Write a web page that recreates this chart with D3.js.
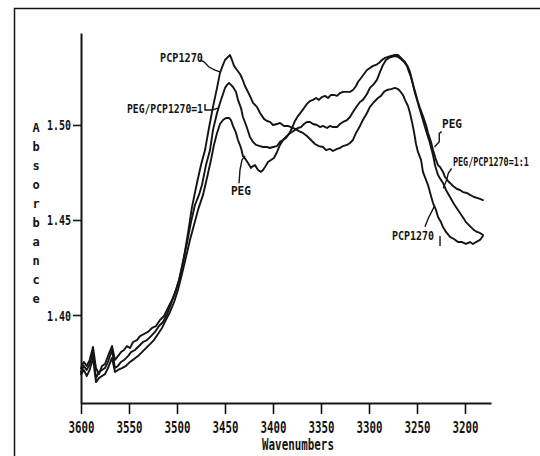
<!DOCTYPE html>
<html><head><meta charset="utf-8">
<script src="https://cdn.jsdelivr.net/npm/d3@7"></script>
<style>body{margin:0;background:#fff}svg{display:block}</style>
</head><body>
<svg id="c" width="540" height="456"></svg>
<script>
// ---------- data ----------
const xTicks = [3600,3550,3500,3450,3400,3350,3300,3250,3200];
const yTicks = [1.40,1.45,1.50];
const xTitle = "Wavenumbers";
const yTitle = "Absorbance";

// [wavenumber, absorbance]
const pcp1270 = [[3600,1.3721],[3597,1.3753],[3594,1.3732],[3591,1.3763],[3587.5,1.3832],[3584.4,1.3721],[3581.3,1.3689],[3578.1,1.3732],[3575,1.3742],[3571.9,1.3784],[3567.7,1.3837],[3564.6,1.3763],[3561.5,1.3784],[3558.3,1.3805],[3555.2,1.3816],[3552.1,1.3837],[3549,1.3826],[3545.8,1.3858],[3541.7,1.3868],[3538.5,1.3889],[3534.4,1.39],[3530.2,1.3911],[3526,1.3932],[3521.9,1.3942],[3517.7,1.3974],[3513.5,1.3995],[3509.4,1.4037],[3505.2,1.4079],[3501,1.4132],[3496.9,1.42],[3492.7,1.4305],[3488.5,1.4432],[3484.4,1.4568],[3479.2,1.4695],[3475,1.4789],[3470.8,1.4868],[3466.7,1.4984],[3462.5,1.5095],[3458.3,1.5195],[3455.2,1.5274],[3452.1,1.5316],[3450,1.5342],[3446.9,1.5358],[3444.8,1.5368],[3442.7,1.5342],[3440.6,1.5311],[3437.5,1.5289],[3434.4,1.5268],[3432.3,1.5247],[3429.2,1.5205],[3427.1,1.5184],[3424,1.5153],[3420.8,1.5116],[3416.7,1.5095],[3413.5,1.5063],[3409.4,1.5032],[3406.3,1.5021],[3403.1,1.5016],[3400,1.5],[3395.8,1.5005],[3392.7,1.5011],[3388.5,1.4995],[3384.4,1.4995],[3381.3,1.4989],[3377.1,1.4979],[3372.9,1.4968],[3368.8,1.4958],[3364.6,1.4942],[3360.4,1.4921],[3356.3,1.49],[3352.1,1.4889],[3347.9,1.4884],[3344.8,1.4868],[3340.6,1.4874],[3337.5,1.4863],[3333.3,1.4874],[3330.2,1.4879],[3327.1,1.4889],[3322.9,1.4895],[3319.8,1.4905],[3316.7,1.4921],[3313.5,1.4958],[3309.4,1.4995],[3306.3,1.5026],[3302.1,1.5063],[3299,1.5095],[3294.8,1.5121],[3290.6,1.5142],[3287.5,1.5153],[3284.4,1.5174],[3281.3,1.5184],[3277.1,1.5189],[3272.9,1.5195],[3269.8,1.5189],[3267.7,1.5179],[3264.6,1.5158],[3262.5,1.5132],[3259.4,1.51],[3257.3,1.5063],[3255.2,1.5016],[3253.1,1.4963],[3251,1.49],[3249,1.4858],[3245.8,1.4816],[3243.8,1.4753],[3240.6,1.4711],[3238.5,1.4684],[3235.4,1.4626],[3233.3,1.4589],[3230.2,1.4553],[3228.1,1.4516],[3225,1.4489],[3222.9,1.4463],[3219.8,1.4437],[3215.6,1.4411],[3211.5,1.44],[3207.3,1.4384],[3203.1,1.4384],[3199,1.4374],[3194.8,1.4384],[3191.7,1.4374],[3188.5,1.4384],[3184.4,1.4395],[3181.3,1.4416]];

const blend11 = [[3600,1.37],[3597,1.3732],[3594,1.3711],[3591,1.3742],[3587.5,1.3805],[3584.4,1.3668],[3581.3,1.37],[3578.1,1.3711],[3575,1.3721],[3571.9,1.3753],[3567.7,1.3816],[3564.6,1.3721],[3561.5,1.3732],[3558.3,1.3753],[3555.2,1.3763],[3551,1.3784],[3547.9,1.3805],[3543.8,1.3816],[3539.6,1.3837],[3535.4,1.3858],[3531.3,1.3868],[3527.1,1.3889],[3522.9,1.3911],[3518.8,1.3942],[3514.6,1.3963],[3510.4,1.4005],[3506.3,1.4058],[3502.1,1.4116],[3497.9,1.4184],[3493.8,1.4279],[3489.6,1.4379],[3485.4,1.4489],[3481.3,1.4579],[3477.1,1.4632],[3474,1.4684],[3469.8,1.4789],[3465.6,1.4868],[3462.5,1.4974],[3458.3,1.5063],[3455.2,1.5116],[3453.1,1.5147],[3450,1.5195],[3447.9,1.5211],[3445.8,1.5221],[3443.8,1.5211],[3441.7,1.52],[3438.5,1.5174],[3436.5,1.5132],[3433.3,1.5089],[3431.3,1.5042],[3428.1,1.5],[3426,1.4968],[3424,1.4937],[3420.8,1.4911],[3417.7,1.4895],[3413.5,1.4889],[3410.4,1.4884],[3406.3,1.4884],[3403.1,1.4879],[3400,1.4884],[3395.8,1.4889],[3392.7,1.4911],[3389.6,1.4921],[3386.5,1.4937],[3383.3,1.4953],[3380.2,1.4963],[3377.1,1.4974],[3374,1.4984],[3370.8,1.4989],[3367.7,1.5005],[3364.6,1.5016],[3361.5,1.5016],[3358.3,1.5005],[3354.2,1.5],[3351,1.4989],[3347.9,1.4995],[3343.8,1.4984],[3340.6,1.4995],[3337.5,1.4989],[3333.3,1.4989],[3330.2,1.5005],[3327.1,1.5016],[3322.9,1.5026],[3319.8,1.5042],[3316.7,1.5068],[3312.5,1.51],[3309.4,1.5121],[3306.3,1.5132],[3302.1,1.5163],[3299,1.5195],[3294.8,1.5216],[3291.7,1.5237],[3288.5,1.5279],[3285.4,1.5316],[3282.3,1.5342],[3279.2,1.5353],[3276,1.5358],[3272.9,1.5363],[3269.8,1.5358],[3266.7,1.5347],[3263.5,1.5332],[3260.4,1.5311],[3258.3,1.5279],[3256.3,1.5253],[3254.2,1.5211],[3252.1,1.5168],[3249,1.5116],[3246.9,1.5079],[3243.8,1.5026],[3241.7,1.4989],[3238.5,1.4937],[3236.5,1.4905],[3233.3,1.4842],[3231.3,1.4789],[3228.1,1.4737],[3225,1.4711],[3222.9,1.4695],[3219.8,1.4658],[3215.6,1.4621],[3211.5,1.4584],[3207.3,1.4553],[3203.1,1.4521],[3199,1.4489],[3194.8,1.4468],[3190.6,1.4447],[3187.5,1.4437],[3184.4,1.4432],[3181.3,1.4421]];

const peg = [[3600,1.3689],[3597,1.3711],[3594,1.3679],[3591,1.3711],[3587.5,1.3774],[3584.4,1.3647],[3581.3,1.3668],[3578.1,1.3679],[3575,1.3689],[3571.9,1.3721],[3567.7,1.3774],[3564.6,1.37],[3561.5,1.3711],[3557.3,1.3721],[3553.1,1.3732],[3549,1.3753],[3544.8,1.3768],[3540.6,1.3784],[3536.5,1.3805],[3532.3,1.3826],[3528.1,1.3847],[3524,1.3868],[3519.8,1.39],[3515.6,1.3932],[3511.5,1.3974],[3507.3,1.4016],[3503.1,1.4068],[3499,1.4132],[3494.8,1.4216],[3490.6,1.4305],[3486.5,1.4395],[3482.3,1.4474],[3478.1,1.4553],[3472.9,1.4632],[3468.8,1.4721],[3464.6,1.4816],[3461.5,1.4895],[3458.3,1.4958],[3455.2,1.5005],[3452.1,1.5026],[3449,1.5037],[3445.8,1.5037],[3443.8,1.5026],[3441.7,1.4995],[3438.5,1.4958],[3436.5,1.4921],[3433.3,1.4879],[3431.3,1.4837],[3428.1,1.4816],[3426,1.48],[3422.9,1.4774],[3420.8,1.4784],[3418.8,1.4789],[3415.6,1.4763],[3412.5,1.4753],[3410.4,1.4763],[3408.3,1.4779],[3405.2,1.4805],[3402.1,1.4816],[3399,1.4826],[3395.8,1.4858],[3392.7,1.4895],[3389.6,1.4921],[3386.5,1.4932],[3383.3,1.4953],[3380.2,1.4984],[3377.1,1.5021],[3374,1.5047],[3370.8,1.5068],[3367.7,1.5089],[3364.6,1.5111],[3361.5,1.5126],[3358.3,1.5132],[3355.2,1.5142],[3352.1,1.5132],[3349,1.5147],[3345.8,1.5153],[3342.7,1.5142],[3339.6,1.5158],[3336.5,1.5158],[3333.3,1.5153],[3330.2,1.5168],[3327.1,1.5174],[3322.9,1.5174],[3319.8,1.5174],[3316.7,1.5184],[3313.5,1.5205],[3311.5,1.5226],[3308.3,1.5247],[3305.2,1.5268],[3302.1,1.5289],[3299,1.53],[3295.8,1.5311],[3292.7,1.5316],[3289.6,1.5326],[3286.5,1.5342],[3283.3,1.5353],[3280.2,1.5358],[3277.1,1.5363],[3272.9,1.5368],[3269.8,1.5368],[3267.7,1.5358],[3264.6,1.5342],[3262.5,1.5332],[3259.4,1.5305],[3257.3,1.5279],[3255.2,1.5237],[3253.1,1.5195],[3251,1.5158],[3249,1.5121],[3246.9,1.5089],[3243.8,1.5047],[3240.6,1.5],[3238.5,1.4958],[3235.4,1.4911],[3233.3,1.4868],[3230.2,1.4816],[3228.1,1.4789],[3226,1.4779],[3222.9,1.4753],[3220.8,1.4726],[3217.7,1.4705],[3215.6,1.4695],[3212.5,1.4679],[3208.3,1.4663],[3205.2,1.4658],[3202.1,1.4647],[3197.9,1.4642],[3194.8,1.4632],[3190.6,1.4621],[3187.5,1.4616],[3184.4,1.4611],[3181.3,1.4605]];

// annotation labels: text, anchor [wn, abs], leader polyline in data units
const labelTexts = ["PCP1270","PEG/PCP1270=1","PEG","PEG","PEG/PCP1270=1:1","PCP1270"];
const labelAnchors = [[3517.7,1.5332],[3552.1,1.5063],[3443.8,1.4632],[3223.9,1.4984],[3212.5,1.4784],[3276,1.4395]];
const leaders = [
  [[3476,1.5342],[3471.9,1.5332],[3466.7,1.5305],[3460.4,1.5289],[3455.2,1.5279]],
  [[3470.8,1.5111],[3470.8,1.5079],[3463.5,1.5079],[3457.3,1.5089]],
  [[3435.4,1.4693],[3434.4,1.4763],[3432.3,1.4816],[3429.2,1.4837]],
  [[3224.3,1.4965],[3226.8,1.4956],[3226.8,1.4912],[3231.8,1.4884]],
  [[3213.9,1.4772],[3217.4,1.4746],[3219.1,1.4711],[3222.6,1.4667]],
  [[3241.7,1.4465],[3238.2,1.4509],[3233,1.4561],[3231.8,1.4574]],
  [[3226,1.4416],[3226,1.4363]]
];

// ---------- drawing ----------
const svg = d3.select("#c");
const W = 540, H = 456;
const x = d3.scaleLinear().domain([3600, 3172.9]).range([81, 491]);
const y = d3.scaleLinear().domain([1.3537, 1.5484]).range([403, 33]);
const ink = "#141414";
const monoFont = "'DejaVu Sans Mono', 'Liberation Mono', monospace";

// squeeze a text horizontally to a target width via transform (keeps true bbox)
function squeeze(sel, widthFn) {
  sel.each(function(d, i) {
    const t = d3.select(this);
    const px = +t.attr("x") || 0, py = +t.attr("y") || 0;
    const nat = this.getComputedTextLength();
    const w = typeof widthFn === "function" ? widthFn(d, i) : widthFn;
    t.attr("x", 0).attr("y", 0)
     .attr("transform", `translate(${px},${py}) scale(${(w / nat).toFixed(4)},1)`);
  });
}

// outer frame (left and top)
svg.append("path").attr("d", `M14.5,${H} V8.5 H${W}`)
  .attr("fill","none").attr("stroke",ink).attr("stroke-width",1.5);

// curves
const line = d3.line().x(d => x(d[0])).y(d => y(d[1]));
[pcp1270, blend11, peg].forEach(s => {
  svg.append("path").datum(s).attr("d", line)
    .attr("fill","none").attr("stroke",ink).attr("stroke-width",1.9)
    .attr("stroke-linejoin","round").attr("stroke-linecap","round");
});

// axes
const xAxis = svg.append("g").attr("transform","translate(0,403)")
  .call(d3.axisBottom(x).tickValues(xTicks).tickSize(11).tickSizeOuter(0).tickFormat(d3.format("d")));
const yAxis = svg.append("g").attr("transform","translate(81,0)")
  .call(d3.axisLeft(y).tickValues(yTicks).tickSize(8).tickSizeOuter(0).tickFormat(d3.format(".2f")));
[xAxis, yAxis].forEach(g => {
  g.select(".domain").attr("stroke",ink).attr("stroke-width",2);
  g.selectAll(".tick line").attr("stroke",ink).attr("stroke-width",1.6);
  g.selectAll(".tick text").attr("fill",ink).attr("font-family",monoFont)
    .attr("font-weight","bold");
});
xAxis.selectAll(".tick text").attr("font-size",15).attr("x",0).attr("y",30).attr("dy",null);
squeeze(xAxis.selectAll(".tick text"), 26);
yAxis.selectAll(".tick text").attr("font-size",14).attr("x",-10).attr("y",5).attr("dy",null);
squeeze(yAxis.selectAll(".tick text"), 24);

// axis titles
const xt = svg.append("text").text(xTitle).attr("x", (x(3400)+x(3350))/2 + 1).attr("y", 450)
  .attr("text-anchor","middle").attr("font-family",monoFont).attr("font-weight","bold")
  .attr("font-size",15).attr("fill",ink);
squeeze(xt, 72);
svg.append("g").selectAll("text").data(yTitle.split("")).join("text")
  .text(d => d).attr("x",36).attr("y",(d,i) => 132 + i*19)
  .attr("text-anchor","middle").attr("font-family",monoFont).attr("font-weight","bold")
  .attr("font-size",12).attr("fill",ink);

// annotations
const labelWidth = [43, 76, 20, 20, 76, 42];
const lbl = svg.append("g").selectAll("text").data(labelTexts).join("text")
  .text(d => d)
  .attr("x",(d,i) => x(labelAnchors[i][0])).attr("y",(d,i) => y(labelAnchors[i][1]))
  .attr("font-family",monoFont).attr("font-weight","bold").attr("font-size",13)
  .attr("fill",ink);
squeeze(lbl, (d,i) => labelWidth[i]);
svg.append("g").selectAll("path").data(leaders).join("path")
  .attr("d", line).attr("fill","none").attr("stroke",ink).attr("stroke-width",1.4);
</script>
</body></html>
